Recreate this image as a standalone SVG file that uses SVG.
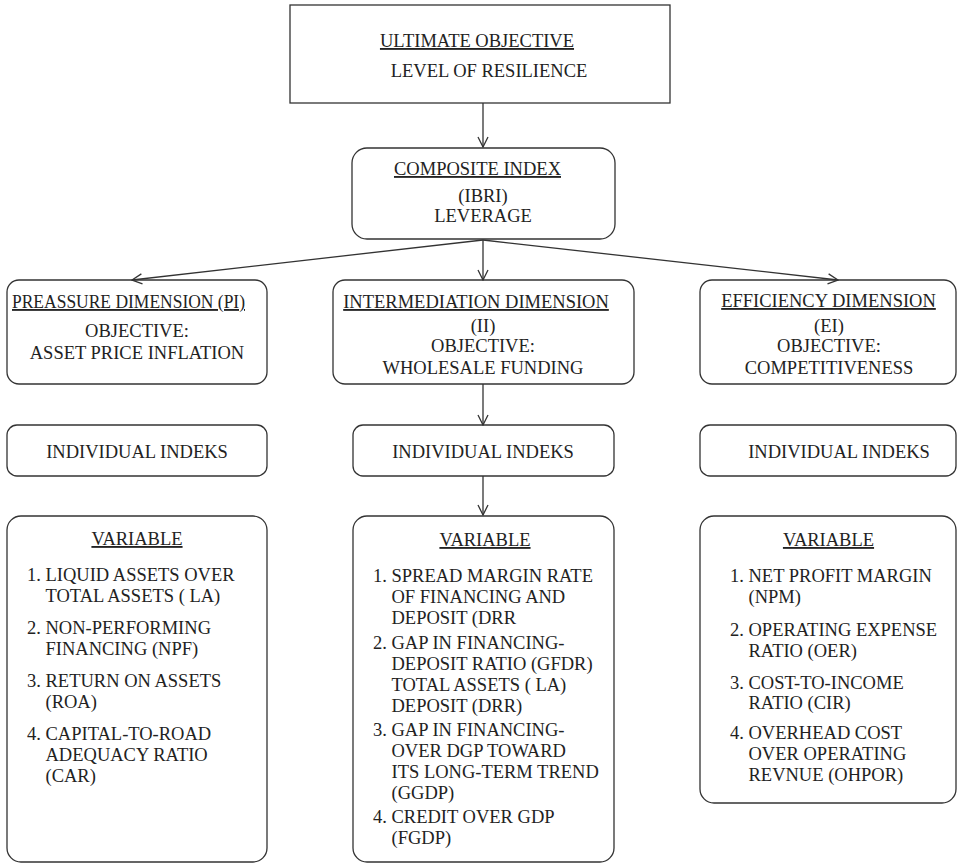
<svg xmlns="http://www.w3.org/2000/svg" width="958" height="866" viewBox="0 0 958 866">
<defs>
<style>
.box{fill:#fff;stroke:#333;stroke-width:1.3}
.t{font-family:"Liberation Serif","Times New Roman",serif;font-size:18.5px;fill:#222}
.c{text-anchor:middle}
.u{text-decoration:underline}
.con line{stroke:#333;stroke-width:1.3;marker-end:url(#ah)}
</style>
<marker id="ah" viewBox="-11 -6 12 12" refX="0" refY="0" markerWidth="12" markerHeight="12" markerUnits="userSpaceOnUse" orient="auto">
<path d="M-10,-5 L0,0 L-10,5" fill="none" stroke="#333" stroke-width="1.3"/>
</marker>
</defs>
<rect width="958" height="866" fill="#fff"/>

<g id="ultimate">
<rect class="box" x="290" y="5" width="380" height="98"/>
<text class="t c u" x="477" y="47">ULTIMATE OBJECTIVE</text>
<text class="t c" x="489" y="77">LEVEL OF RESILIENCE</text>
</g>

<g id="composite">
<rect class="box" x="352" y="148" width="263" height="91" rx="15"/>
<text class="t c u" x="477.5" y="175">COMPOSITE INDEX</text>
<text class="t c" x="483" y="201.5">(IBRI)</text>
<text class="t c" x="483" y="222">LEVERAGE</text>
</g>

<g id="dim-pi">
<rect class="box" x="7" y="280" width="260" height="104" rx="12"/>
<text class="t u" x="12" y="308" textLength="233" lengthAdjust="spacingAndGlyphs">PREASSURE DIMENSION (PI)</text>
<text class="t c" x="137" y="336.5">OBJECTIVE:</text>
<text class="t c" x="137" y="358.5">ASSET PRICE INFLATION</text>
</g>

<g id="dim-ii">
<rect class="box" x="333" y="280" width="301" height="104" rx="12"/>
<text class="t c u" x="476" y="308">INTERMEDIATION DIMENSION</text>
<text class="t c" x="483" y="331.5">(II)</text>
<text class="t c" x="483" y="352">OBJECTIVE:</text>
<text class="t c" x="483" y="373.5">WHOLESALE FUNDING</text>
</g>

<g id="dim-ei">
<rect class="box" x="700" y="280" width="256" height="104" rx="12"/>
<text class="t c u" x="828.5" y="307">EFFICIENCY DIMENSION</text>
<text class="t c" x="829" y="331.5">(EI)</text>
<text class="t c" x="829" y="352">OBJECTIVE:</text>
<text class="t c" x="829" y="373.5">COMPETITIVENESS</text>
</g>

<g id="ind-pi">
<rect class="box" x="7" y="425" width="260" height="51" rx="10"/>
<text class="t c" x="137" y="458">INDIVIDUAL INDEKS</text>
</g>
<g id="ind-ii">
<rect class="box" x="353" y="425" width="261" height="51" rx="10"/>
<text class="t c" x="483" y="458">INDIVIDUAL INDEKS</text>
</g>
<g id="ind-ei">
<rect class="box" x="700" y="425" width="256" height="51" rx="10"/>
<text class="t c" x="839" y="458">INDIVIDUAL INDEKS</text>
</g>

<g id="var-pi">
<rect class="box" x="7" y="516" width="260" height="346" rx="14"/>
<text class="t c u" x="137" y="545">VARIABLE</text>
<text class="t" x="27" y="581">1. LIQUID ASSETS OVER</text>
<text class="t" x="45.5" y="602">TOTAL ASSETS ( LA)</text>
<text class="t" x="27" y="634">2. NON-PERFORMING</text>
<text class="t" x="45.5" y="655">FINANCING (NPF)</text>
<text class="t" x="27" y="687">3. RETURN ON ASSETS</text>
<text class="t" x="45.5" y="708">(ROA)</text>
<text class="t" x="27" y="740">4. CAPITAL-TO-ROAD</text>
<text class="t" x="45.5" y="761">ADEQUACY RATIO</text>
<text class="t" x="45.5" y="782">(CAR)</text>
</g>

<g id="var-ii">
<rect class="box" x="353" y="516" width="261" height="346" rx="14"/>
<text class="t c u" x="485" y="546">VARIABLE</text>
<text class="t" x="373" y="582">1. SPREAD MARGIN RATE</text>
<text class="t" x="391.5" y="603">OF FINANCING AND</text>
<text class="t" x="391.5" y="624">DEPOSIT (DRR</text>
<text class="t" x="373" y="649">2. GAP IN FINANCING-</text>
<text class="t" x="391.5" y="670">DEPOSIT RATIO (GFDR)</text>
<text class="t" x="391.5" y="691">TOTAL ASSETS ( LA)</text>
<text class="t" x="391.5" y="712">DEPOSIT (DRR)</text>
<text class="t" x="373" y="736">3. GAP IN FINANCING-</text>
<text class="t" x="391.5" y="757">OVER DGP TOWARD</text>
<text class="t" x="391.5" y="778">ITS LONG-TERM TREND</text>
<text class="t" x="391.5" y="799">(GGDP)</text>
<text class="t" x="373" y="823">4. CREDIT OVER GDP</text>
<text class="t" x="391.5" y="844">(FGDP)</text>
</g>

<g id="var-ei">
<rect class="box" x="700" y="516" width="256" height="287" rx="14"/>
<text class="t c u" x="828.5" y="546">VARIABLE</text>
<text class="t" x="730" y="582">1. NET PROFIT MARGIN</text>
<text class="t" x="748.5" y="603">(NPM)</text>
<text class="t" x="730" y="636">2. OPERATING EXPENSE</text>
<text class="t" x="748.5" y="657">RATIO (OER)</text>
<text class="t" x="730" y="689">3. COST-TO-INCOME</text>
<text class="t" x="748.5" y="709">RATIO (CIR)</text>
<text class="t" x="730" y="739">4. OVERHEAD COST</text>
<text class="t" x="748.5" y="760">OVER OPERATING</text>
<text class="t" x="748.5" y="781">REVNUE (OHPOR)</text>
</g>

<g id="connectors" class="con">
<line x1="483" y1="103" x2="483" y2="147"/>
<line x1="483" y1="240" x2="132" y2="280"/>
<line x1="483" y1="240" x2="483" y2="280"/>
<line x1="483" y1="240" x2="838" y2="280"/>
<line x1="483" y1="384" x2="483" y2="425"/>
<line x1="483" y1="476" x2="483" y2="515"/>
</g>
</svg>
